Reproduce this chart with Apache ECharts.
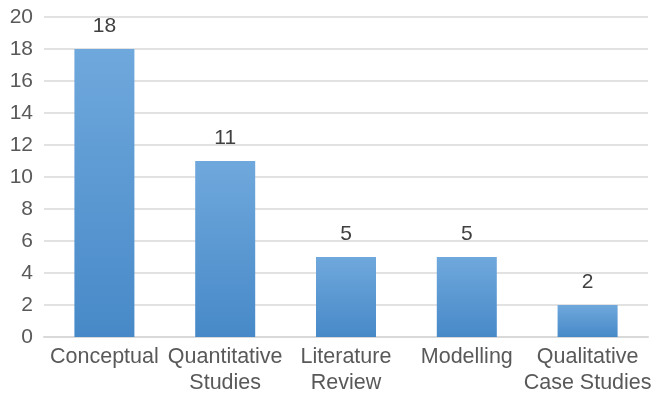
<!DOCTYPE html>
<html>
<head>
<meta charset="utf-8">
<script src="https://cdn.jsdelivr.net/npm/echarts@6/dist/echarts.min.js"></script>
<style>
  html, body { margin: 0; padding: 0; background: #ffffff; }
  #chart { width: 660px; height: 403px; }
</style>
</head>
<body>
<div id="chart"></div>
<script>
// Study types and the number of papers in each
const categories = ['Conceptual', 'Quantitative\nStudies', 'Literature\nReview', 'Modelling', 'Qualitative\nCase Studies'];
const counts = [18, 11, 5, 5, 2];
const yTicks = { min: 0, max: 20, interval: 2 };

const chart = echarts.init(document.getElementById('chart'), null, { renderer: 'canvas' });

const fontFamily = '"Liberation Sans", Arial, Helvetica, sans-serif';

chart.setOption({
  animation: false,
  backgroundColor: '#ffffff',
  grid: { left: 44, right: 12, top: 17, bottom: 66, containLabel: false },
  xAxis: {
    type: 'category',
    data: categories,
    axisLine: { show: true, lineStyle: { color: '#d9d9d9', width: 2 } },
    axisTick: { show: false },
    axisLabel: {
      color: '#595959',
      fontFamily: fontFamily,
      fontSize: 21.5,
      lineHeight: 26,
      margin: 7,
      interval: 0
    }
  },
  yAxis: {
    type: 'value',
    min: yTicks.min,
    max: yTicks.max,
    interval: yTicks.interval,
    axisLine: { show: false },
    axisTick: { show: false },
    splitLine: { lineStyle: { color: '#d9d9d9', width: 1.5 } },
    axisLabel: {
      color: '#595959',
      fontFamily: fontFamily,
      fontSize: 21,
      margin: 11
    }
  },
  series: [{
    type: 'bar',
    data: counts,
    barWidth: 60,
    itemStyle: {
      color: new echarts.graphic.LinearGradient(0, 0, 0, 1, [
        { offset: 0, color: '#6fa8dc' },
        { offset: 1, color: '#4789c8' }
      ])
    },
    label: {
      show: true,
      position: 'top',
      distance: 12,
      color: '#404040',
      fontFamily: fontFamily,
      fontSize: 21
    }
  }]
});
</script>
</body>
</html>
